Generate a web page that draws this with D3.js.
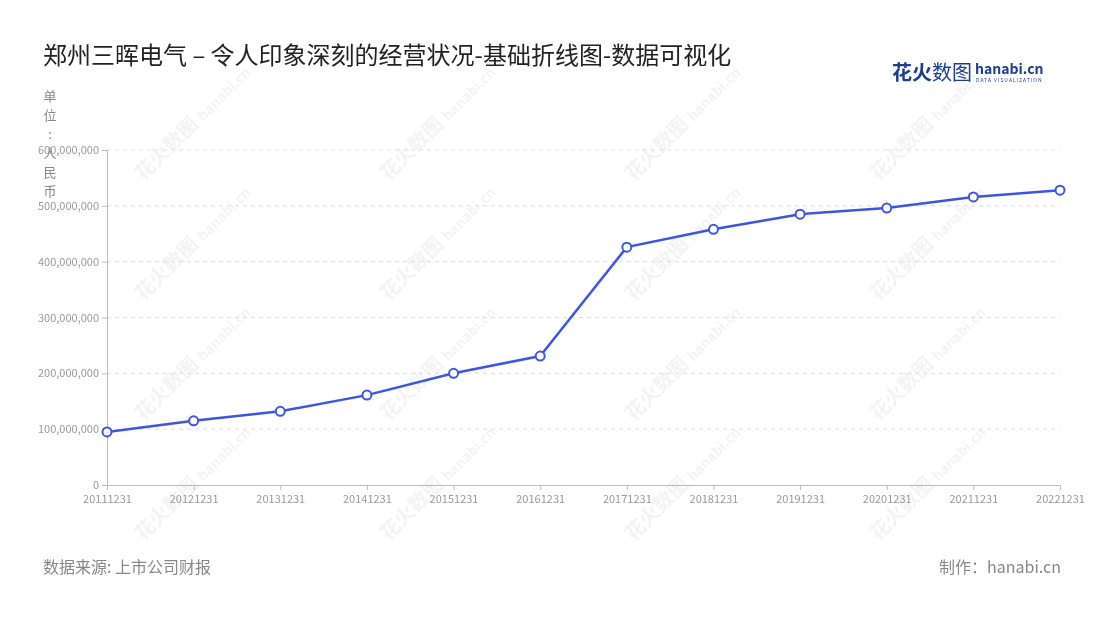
<!DOCTYPE html>
<html><head><meta charset="utf-8">
<script src="https://cdn.jsdelivr.net/npm/d3@7"></script>
<style>body{margin:0;background:#fff;font-family:"Noto Sans CJK SC","Noto Sans",sans-serif}</style>
</head><body><svg id="c" width="1100" height="620"></svg>
<script>
const categories=["20111231","20121231","20131231","20141231","20151231","20161231","20171231","20181231","20191231","20201231","20211231","20221231"];
const values=[95e6,115e6,132e6,161e6,200e6,231e6,426e6,458e6,485e6,496e6,516e6,528e6];
const yTicks=[0,1e8,2e8,3e8,4e8,5e8,6e8];
const unitChars=["单","位",":","人","民","币"];
const svg=d3.select("#c");
const F='"Noto Sans CJK SC","Noto Sans",sans-serif';
const wm=svg.append("g").attr("opacity",0.1);
for(const wx of [175,420,665,910])for(const wy of [150,270,390,510]){
  const g=wm.append("g").attr("transform",`translate(${wx},${wy}) rotate(-45)`);
  g.append("text").attr("x",-45).attr("y",0).attr("font-size",20).attr("font-weight",700).attr("fill","#888").attr("font-family",F).text("花火数图");
  g.append("text").attr("x",40).attr("y",0).attr("font-size",14).attr("font-weight",700).attr("fill","#888").attr("font-family",F).text("hanabi.cn");
}
const x=d3.scalePoint().domain(categories).range([107,1060]);
const y=d3.scaleLinear().domain([0,6e8]).range([485,150]);
const grid=svg.append("g");
yTicks.slice(1).forEach(t=>grid.append("line").attr("x1",107).attr("x2",1060).attr("y1",y(t)).attr("y2",y(t)).attr("stroke","#ddd").attr("stroke-dasharray","4,4"));
const ya=svg.append("g").attr("transform","translate(107,0)").call(d3.axisLeft(y).tickValues(yTicks).tickFormat(d3.format(",")).tickSize(5));
ya.select(".domain").attr("stroke","#bbb");ya.selectAll("line").attr("stroke","#bbb");
ya.selectAll("text").attr("fill","#999").attr("font-size",11).attr("font-family",F);
const xa=svg.append("g").attr("transform","translate(0,485)").call(d3.axisBottom(x).tickSize(5).tickSizeOuter(0));
xa.select(".domain").attr("stroke","#bbb");xa.selectAll("line").attr("stroke","#bbb");
xa.selectAll("text").attr("fill","#999").attr("font-size",11).attr("font-family",F).attr("dy","0.9em");
unitChars.forEach((c,i)=>svg.append("text").attr("x",50).attr("y",101+i*19).attr("text-anchor","middle").attr("font-size",13).attr("fill","#888").attr("font-family",F).text(c));
const line=d3.line().x((d,i)=>x(categories[i])).y(d=>y(d));
svg.append("path").datum(values).attr("d",line).attr("fill","none").attr("stroke","#3d55e6").attr("stroke-width",2.5);
svg.selectAll("circle.p").data(values).join("circle").attr("cx",(d,i)=>x(categories[i])).attr("cy",d=>y(d)).attr("r",4.5).attr("fill","#fff").attr("stroke","#3d55e6").attr("stroke-width",2);
svg.append("text").attr("x",43).attr("y",64).attr("font-size",24).attr("fill","#222").attr("font-family",F).text("郑州三晖电气 – 令人印象深刻的经营状况-基础折线图-数据可视化");
svg.append("text").attr("x",43).attr("y",573).attr("font-size",16).attr("fill","#888").attr("font-family",F).text("数据来源: 上市公司财报");
svg.append("text").attr("x",1061).attr("y",573).attr("text-anchor","end").attr("font-size",16).attr("fill","#888").attr("font-family",F).text("制作：hanabi.cn");
svg.append("text").attr("x",892).attr("y",80).attr("font-size",20).attr("font-weight",700).attr("fill","#1d3d8f").attr("font-family",F).text("花火");
svg.append("text").attr("x",932).attr("y",80).attr("font-size",20).attr("fill","#1d3d8f").attr("font-family",F).text("数图");
svg.append("text").attr("x",975).attr("y",74).attr("font-size",14).attr("font-weight",700).attr("fill","#1d3d8f").attr("font-family",F).text("hanabi.cn");
svg.append("text").attr("x",976).attr("y",82).attr("font-size",5).attr("fill","#1d3d8f").attr("font-family",F).attr("letter-spacing",1).text("DATA VISUALIZATION");
</script></body></html>
